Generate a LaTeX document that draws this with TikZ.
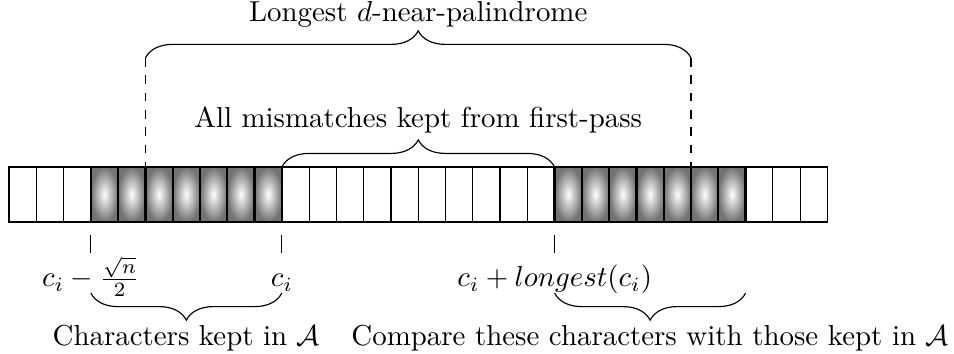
\documentclass[tikz,border=0pt]{standalone}
\usepackage{amsmath}
\usepackage{amssymb}
\usetikzlibrary{calc}
\usetikzlibrary{decorations.pathreplacing}

\def\cw{0.332} % cell width
\def\ch{0.67}  % cell height

\tikzset{
  cell/.style={draw, minimum width=\cw cm, minimum height=\ch cm, inner sep=0pt, outer sep=0pt},
  kept/.style={cell, thick, shade, inner color=white, outer color=black!55},
  brace/.style={decorate, decoration={brace, amplitude=0.33cm}},
  lbl/.style={midway, anchor=base}
}

\begin{document}
\begin{tikzpicture}

    \useasboundingbox (-0.1095,-2.264) rectangle (11.50,2.032);

    % -------------------------------------------------------
    % 1. The string, one cell per character
    % -------------------------------------------------------
    % Cells 3..9 and 20..26 are the shaded (kept) blocks.
    \foreach \i in {0,...,29} {
        \pgfmathtruncatemacro\iskept{(\i>2 && \i<10) || (\i>19 && \i<27)}
        \ifnum\iskept=1
            \node[kept] (c\i) at ({(\i+0.5)*\cw},{-\ch/2}) {};
        \else
            \node[cell] (c\i) at ({(\i+0.5)*\cw},{-\ch/2}) {};
        \fi
    }

    % -------------------------------------------------------
    % 2. Braces above the string
    % -------------------------------------------------------
    \coordinate (palL) at ([yshift=1.327cm]c5.north west);
    \coordinate (palR) at ([yshift=1.327cm]c25.north west);
    \draw[brace] (palL) -- (palR) node[lbl, yshift=0.44cm] {Longest $d$-near-palindrome};
    \draw[dashed] (palL) -- (c5.north west);
    \draw[dashed] (palR) -- (c25.north west);

    \draw[brace] (c10.north west) -- (c20.north west)
        node[lbl, yshift=0.475cm] {All mismatches kept from first-pass};

    % -------------------------------------------------------
    % 3. Positions below the string
    % -------------------------------------------------------
    \foreach \i in {3,10,20} {
        \draw ([yshift=-0.158cm]c\i.south west) -- ([yshift=-0.377cm]c\i.south west);
    }
    \node[anchor=base] (lo) at ([yshift=-0.787cm]c3.south west) {$c_i - \frac{\sqrt{n}}{2}$};
    \node[anchor=base] (ci) at ([yshift=-0.787cm]c10.south west) {$c_i$};
    \node[anchor=base] (cl) at ([yshift=-0.787cm]c20.south west) {$c_i + longest(c_i)$};

    % -------------------------------------------------------
    % 4. Braces below the string
    % -------------------------------------------------------
    \coordinate (keptL) at ([yshift=-0.864cm]c3.south west);
    \coordinate (keptR) at ([yshift=-0.864cm]c10.south west);
    \coordinate (cmpL) at ([yshift=-0.864cm]c20.south west);
    \coordinate (cmpR) at ([yshift=-0.864cm]c27.south west);
    \draw[brace] (keptR) -- (keptL) node[lbl, yshift=-0.633cm] {Characters kept in $\mathcal{A}$};
    \draw[brace] (cmpR) -- (cmpL) node[lbl, yshift=-0.633cm] {Compare these characters with those kept in $\mathcal{A}$};

\end{tikzpicture}
\end{document}
